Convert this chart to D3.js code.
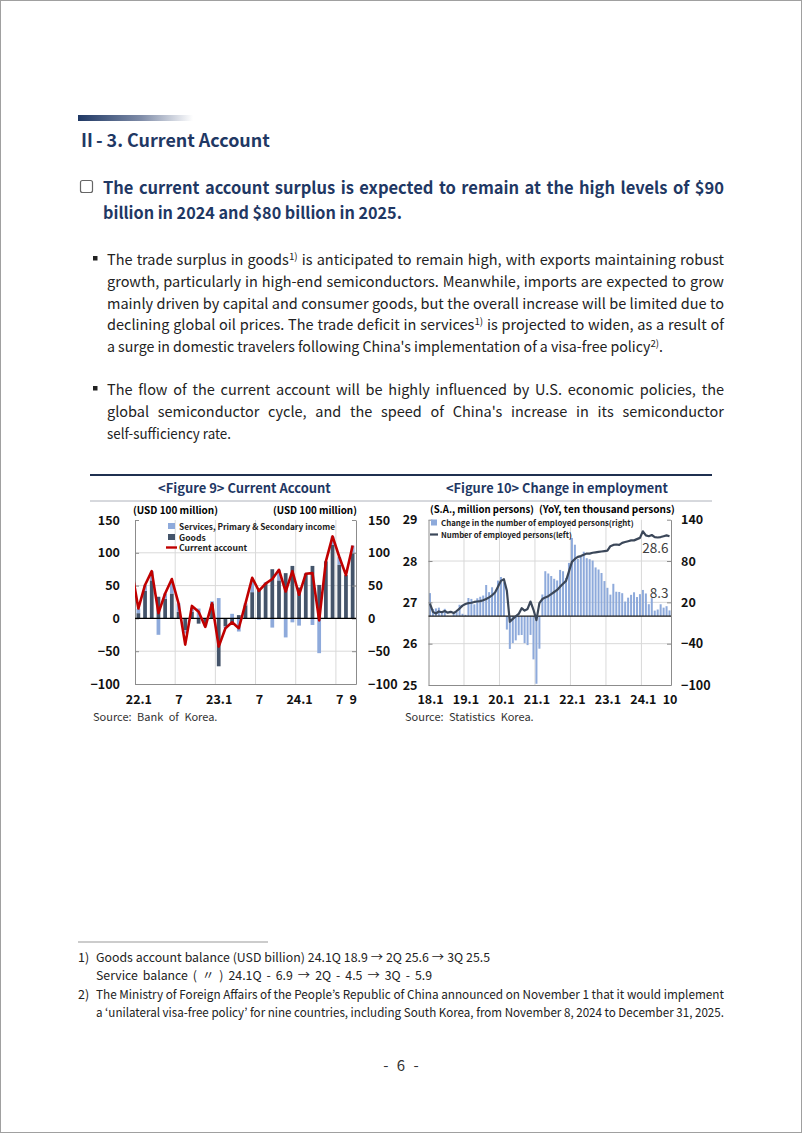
<!DOCTYPE html>
<html><head><meta charset="utf-8">
<script src="https://cdn.jsdelivr.net/npm/d3@7"></script>
<style>
html,body{margin:0;padding:0;background:#fff;}
svg{display:block;}
</style></head><body>
<svg id="page" width="802" height="1133"></svg>
<script>
// ================= DATA =================
// Figure 9: monthly, 22.1 .. 24.9 (USD 100 million)
const fig9Months = ["22.1","22.2","22.3","22.4","22.5","22.6","22.7","22.8","22.9","22.10","22.11","22.12",
  "23.1","23.2","23.3","23.4","23.5","23.6","23.7","23.8","23.9","23.10","23.11","23.12",
  "24.1","24.2","24.3","24.4","24.5","24.6","24.7","24.8","24.9"];
const fig9Goods = [8,42,58,33,30,38,10,-18,10,-8,-7,22,-73,-12,-10,5,20,40,44,53,75,58,69,80,47,68,80,51,87,112,82,66,100];
const fig9Services = [7,9,14,-25,8,16,13,-5,6,15,-5,4,31,-3,7,-20,3,20,-2,2,-14,16,-29,-6,-11,1,-10,-53,0,13,12,0,11];
const fig9Current = [15,51,72,8,38,60,23,-40,19,10,-13,23,-43,-15,-6,-15,23,62,42,53,60,74,41,72,36,68,69,-3,87,125,94,66,111];
const fig9CurrentLeadIn = 75; // 21.12, cut off at the left edge
const fig9TickMonths = ["22.1","22.7","23.1","23.7","24.1","24.7","24.9"];
const fig9TickLabels = ["22.1","7","23.1","7","24.1","7","9"];
const fig9GridMonths = ["22.7","23.1","23.7","24.1","24.7"];
const fig9YTicks = [150,100,50,0,-50,-100];

// Figure 10: monthly, 18.1 .. 24.10
const fig10Years = ["18","19","20","21","22","23","24"];
const fig10Employed = [
  26.97,26.77,26.73,26.78,26.76,26.79,26.75,26.77,26.74,26.79,26.85,26.92,
  26.96,26.98,26.99,27.01,27.02,27.03,27.05,27.08,27.12,27.17,27.24,27.38,
  27.52,27.56,27.28,26.53,26.60,26.66,26.72,26.86,26.80,26.84,27.02,26.82,
  26.57,26.98,27.08,27.12,27.15,27.20,27.25,27.30,27.38,27.45,27.52,27.75,
  27.98,28.05,28.10,28.12,28.15,28.18,28.18,28.20,28.21,28.22,28.23,28.24,
  28.25,28.36,28.39,28.40,28.39,28.44,28.46,28.48,28.50,28.50,28.53,28.56,
  28.72,28.62,28.60,28.63,28.58,28.57,28.58,28.60,28.62,28.60];
const fig10Change = [
  33.4,10.4,11.2,12.3,7.2,10.6,0.5,0.3,4.5,6.4,16.5,3.4,
  1.9,26.3,25.0,17.1,25.9,28.1,29.9,45.2,34.8,41.9,33.1,51.6,
  56.8,49.2,-19.5,-47.6,-39.2,-35.2,-27.7,-27.4,-39.2,-42.1,-27.3,-62.8,
  -98.2,-47.3,31.4,65.2,61.9,58.2,54.2,51.8,67.1,65.2,55.3,77.3,
  113.5,103.7,83.1,86.5,93.5,84.1,82.6,80.7,70.7,67.7,62.6,50.9,
  41.1,31.2,46.9,35.4,35.1,33.3,21.1,26.8,30.9,34.6,27.7,31.9,
  38.0,32.9,17.3,26.1,8.0,9.6,17.2,12.3,14.4,8.3];
const fig10TickMonths = ["18.1","19.1","20.1","21.1","22.1","23.1","24.1","24.10"];
const fig10TickLabels = ["18.1","19.1","20.1","21.1","22.1","23.1","24.1","10"];
const fig10GridMonths = ["19.1","20.1","21.1","22.1","23.1","24.1"];
const fig10LeftTicks = [29,28,27,26,25];
const fig10RightTicks = [140,80,20,-40,-100];

// ================= PAGE =================
const FONT = "'Noto Sans CJK KR','Noto Sans',sans-serif";
const NAVY = "#1f3864";
const svg = d3.select("#page");
const defs = svg.append("defs");

svg.append("rect").attr("x",0.5).attr("y",0.5).attr("width",801).attr("height",1132)
  .attr("fill","#fff").attr("stroke","#a0a0a0");

const grad = defs.append("linearGradient").attr("id","hdrGrad");
grad.append("stop").attr("offset","0%").attr("stop-color","#1f3864");
grad.append("stop").attr("offset","55%").attr("stop-color","#7f8ca8");
grad.append("stop").attr("offset","100%").attr("stop-color","#ffffff");
svg.append("rect").attr("x",78).attr("y",115).attr("width",115).attr("height",6).attr("fill","url(#hdrGrad)");

// shrink font when too wide, stretch spacing when too narrow
function fitText(sel, w){
  let L = sel.node().getComputedTextLength();
  if (L > w + 0.5){
    const fs = parseFloat(sel.attr("font-size") || getComputedStyle(sel.node()).fontSize);
    sel.attr("font-size", fs*w/L);
    L = sel.node().getComputedTextLength();
  }
  if (L < w - 1) sel.attr("textLength", w).attr("lengthAdjust","spacing");
  return sel;
}

const title = svg.append("text").attr("x",78).attr("y",147)
  .attr("font-family",FONT).attr("font-size",19.5).attr("font-weight","bold").attr("fill",NAVY)
  .text("Ⅱ- 3.  Current  Account");
fitText(title, 192);

function addWord(g, word, o){
  const t = g.append("text").attr("y",0).attr("font-family",FONT).attr("font-size",o.size)
    .attr("font-weight",o.weight||"normal").attr("fill",o.color||"#222");
  const parts = word.split("^");
  t.append("tspan").text(parts[0]);
  if (parts.length>1){
    t.append("tspan").attr("dy",-o.size*0.38).attr("font-size",o.size*0.68).text(parts[1]);
    if (parts.length>2) t.append("tspan").attr("dy",o.size*0.38).text(parts[2]);
  }
  return t;
}
function drawLine(parent, text, x0, x1, y, o){
  const words = text.split(/\s+/).filter(w=>w.length);
  const g = parent.append("g");
  const nodes = words.map(w=>addWord(g,w,o));
  const widths = nodes.map(n=>n.node().getComputedTextLength());
  const total = d3.sum(widths);
  let gap = o.justify && words.length>1 ? (x1-x0-total)/(words.length-1) : o.size*(o.space||0.4);
  let sx = 1;
  const minGap = o.size*0.22;
  if (gap < minGap){ gap = minGap; sx = (x1-x0)/(total+gap*(words.length-1)); }
  let x = 0;
  nodes.forEach((n,i)=>{ n.attr("x",x); x += widths[i]+gap; });
  g.attr("transform",`translate(${x0},${y}) scale(${sx},1)`);
}

// heading with checkbox
svg.append("rect").attr("x",80.5).attr("y",180.5).attr("width",12).attr("height",12).attr("rx",2)
  .attr("fill","none").attr("stroke","#666").attr("stroke-width",1.2);
const hOpt = {size:16.5, weight:"bold", color:NAVY, justify:true};
drawLine(svg,"The current account surplus is expected to remain at the high levels of $90",103,724,194,hOpt);
drawLine(svg,"billion in 2024 and $80 billion in 2025.",103,402,219,hOpt);

// bullets
const bOpt = {size:14.5, color:"#222", justify:true};
const para1 = [
  "The trade surplus in goods^1) is anticipated to remain high, with exports maintaining robust",
  "growth, particularly in high-end semiconductors. Meanwhile, imports are expected to grow",
  "mainly driven by capital and consumer goods, but the overall increase will be limited due to",
  "declining global oil prices. The trade deficit in services^1) is projected to widen, as a result of",
  "a surge in domestic travelers following China's implementation of a visa-free policy^2)^."];
const para1Ends = [724,724,724,724,663];
const para2 = [
  "The flow of the current account will be highly influenced by U.S. economic policies, the",
  "global semiconductor cycle, and the speed of China's increase in its semiconductor",
  "self-sufficiency rate."];
const para2Ends = [724,724,231];
svg.append("rect").attr("x",93).attr("y",256).attr("width",4.5).attr("height",4.5).attr("fill","#222");
para1.forEach((l,i)=>drawLine(svg,l,107,para1Ends[i],265+i*21.8,bOpt));
svg.append("rect").attr("x",93).attr("y",386).attr("width",4.5).attr("height",4.5).attr("fill","#222");
para2.forEach((l,i)=>drawLine(svg,l,107,para2Ends[i],395+i*21.8,bOpt));

// figure frame
svg.append("line").attr("x1",90).attr("x2",712).attr("y1",475).attr("y2",475).attr("stroke","#1f3050").attr("stroke-width",2);
svg.append("line").attr("x1",90).attr("x2",712).attr("y1",501).attr("y2",501).attr("stroke","#9aa0aa").attr("stroke-width",0.8);
const ft9 = svg.append("text").attr("x",158).attr("y",493)
  .attr("font-family",FONT).attr("font-size",14).attr("font-weight","bold").attr("fill",NAVY)
  .text("<Figure 9>  Current  Account");
const ft10 = svg.append("text").attr("x",446).attr("y",493)
  .attr("font-family",FONT).attr("font-size",14).attr("font-weight","bold").attr("fill",NAVY)
  .text("<Figure 10>  Change  in  employment");
fitText(ft9,173); fitText(ft10,222);

svg.append("text").attr("x",93).attr("y",721).attr("font-family",FONT).attr("font-size",11).attr("fill","#333")
  .attr("word-spacing",3).text("Source: Bank of Korea.");
svg.append("text").attr("x",405).attr("y",721).attr("font-family",FONT).attr("font-size",11).attr("fill","#333")
  .attr("word-spacing",3).text("Source: Statistics Korea.");

function styleAxis(sel, size){
  sel.select(".domain").attr("stroke","#8c8c8c");
  sel.selectAll(".tick line").attr("stroke","#8c8c8c");
  sel.selectAll("text").attr("font-family",FONT).attr("font-size",size).attr("font-weight","bold").attr("fill","#111");
}

// ================= FIGURE 9 =================
const f9 = {x0:135, x1:356, y0:520, y1:684};
const x9 = d3.scaleLinear().domain([-0.5, fig9Months.length-0.5]).range([f9.x0,f9.x1]);
const y9 = d3.scaleLinear().domain([-100,150]).range([f9.y1,f9.y0]);
const step9 = x9(1)-x9(0), bw9 = step9*0.56;
const g9 = svg.append("g");
defs.append("clipPath").attr("id","clip9").append("rect")
  .attr("x",f9.x0).attr("y",f9.y0-10).attr("width",f9.x1-f9.x0).attr("height",f9.y1-f9.y0+20);

g9.selectAll(".hg").data(fig9YTicks.filter(v=>v!==150 && v!==0 && v!==-100)).join("line")
  .attr("x1",f9.x0).attr("x2",f9.x1).attr("y1",d=>y9(d)).attr("y2",d=>y9(d)).attr("stroke","#d9d9d9");
g9.selectAll(".vg").data(fig9GridMonths).join("line")
  .attr("x1",d=>x9(fig9Months.indexOf(d)-0.5)).attr("x2",d=>x9(fig9Months.indexOf(d)-0.5))
  .attr("y1",f9.y0).attr("y2",f9.y1).attr("stroke","#d9d9d9");

g9.selectAll(".gd").data(fig9Goods).join("rect")
  .attr("x",(d,i)=>x9(i)-bw9/2).attr("width",bw9)
  .attr("y",d=>y9(Math.max(0,d))).attr("height",d=>Math.abs(y9(d)-y9(0))).attr("fill","#44546a");
g9.selectAll(".sv").data(fig9Services).join("rect")
  .attr("x",(d,i)=>x9(i)-bw9/2).attr("width",bw9)
  .attr("y",(d,i)=>{const g=fig9Goods[i]; const base = d>=0 ? Math.max(g,0) : Math.min(g,0); return d>=0 ? y9(base+d) : y9(base);})
  .attr("height",d=>Math.abs(y9(d)-y9(0))).attr("fill","#8eaadb");

const axL9 = d3.axisLeft(y9).tickValues(fig9YTicks).tickSizeInner(-4).tickSizeOuter(0).tickPadding(15);
const axR9 = d3.axisRight(y9).tickValues(fig9YTicks).tickSizeInner(-4).tickSizeOuter(0).tickPadding(12);
const axB9 = d3.axisBottom(x9).tickValues(fig9TickMonths.map(m=>fig9Months.indexOf(m)))
  .tickFormat((d,i)=>fig9TickLabels[i]).tickSize(0).tickPadding(11);
g9.append("g").attr("transform",`translate(${f9.x0},0)`).call(axL9).call(s=>styleAxis(s,12.5));
g9.append("g").attr("transform",`translate(${f9.x1},0)`).call(axR9).call(s=>styleAxis(s,12.5));
g9.append("g").attr("transform",`translate(0,${f9.y1})`).call(axB9).call(s=>styleAxis(s,12.5));
g9.append("line").attr("x1",f9.x0).attr("x2",f9.x1).attr("y1",y9(0)).attr("y2",y9(0)).attr("stroke","#000").attr("stroke-width",1.3);

const caPts = [[-1,fig9CurrentLeadIn]].concat(fig9Current.map((v,i)=>[i,v]));
g9.append("path").datum(caPts).attr("clip-path","url(#clip9)")
  .attr("d",d3.line().x(d=>x9(d[0])).y(d=>y9(d[1])))
  .attr("fill","none").attr("stroke","#c00000").attr("stroke-width",2.6).attr("stroke-linejoin","round");

const u9a = g9.append("text").attr("x",133).attr("y",514).attr("font-family",FONT).attr("font-size",11).attr("font-weight","bold").text("(USD 100 million)");
const u9b = g9.append("text").attr("x",273).attr("y",514).attr("font-family",FONT).attr("font-size",11).attr("font-weight","bold").text("(USD 100 million)");
fitText(u9a,85); fitText(u9b,84);

const lg9 = g9.append("g").attr("font-family",FONT).attr("font-size",8.6).attr("font-weight","bold").attr("fill","#222");
lg9.append("rect").attr("x",168).attr("y",523).attr("width",7).attr("height",6).attr("fill","#8eaadb");
fitText(lg9.append("text").attr("x",179).attr("y",530).attr("font-size",8.6).text("Services, Primary & Secondary income"),156);
lg9.append("rect").attr("x",168).attr("y",534).attr("width",7).attr("height",6).attr("fill","#44546a");
lg9.append("text").attr("x",179).attr("y",541).text("Goods");
lg9.append("line").attr("x1",166).attr("x2",177).attr("y1",547.5).attr("y2",547.5).attr("stroke","#c00000").attr("stroke-width",2.4);
lg9.append("text").attr("x",179).attr("y",551).text("Current account");

// ================= FIGURE 10 =================
const fig10Months = [];
fig10Years.forEach(y=>{ for(let m=1;m<=12;m++){ if(fig10Months.length<fig10Change.length) fig10Months.push(y+"."+m); } });
const f10 = {x0:428.5, x1:671, y0:519.7, y1:685};
const x10 = d3.scaleLinear().domain([-0.5, fig10Months.length-0.5]).range([f10.x0,f10.x1]);
const yL10 = d3.scaleLinear().domain([25,29]).range([f10.y1,f10.y0]);
const yR10 = d3.scaleLinear().domain([-100,140]).range([f10.y1,f10.y0]);
const step10 = x10(1)-x10(0), bw10 = step10*0.68;
const g10 = svg.append("g");

g10.selectAll(".hg").data([28,27,26]).join("line")
  .attr("x1",f10.x0).attr("x2",f10.x1).attr("y1",d=>yL10(d)).attr("y2",d=>yL10(d)).attr("stroke","#d9d9d9");
g10.selectAll(".vg").data(fig10GridMonths).join("line")
  .attr("x1",d=>x10(fig10Months.indexOf(d)-0.5)).attr("x2",d=>x10(fig10Months.indexOf(d)-0.5))
  .attr("y1",f10.y0).attr("y2",f10.y1).attr("stroke","#d9d9d9");

g10.selectAll(".bar").data(fig10Change).join("rect")
  .attr("x",(d,i)=>x10(i)-bw10/2).attr("width",bw10)
  .attr("y",d=>yR10(Math.max(0,d))).attr("height",d=>Math.abs(yR10(d)-yR10(0))).attr("fill","#8eaadb");

const axL10 = d3.axisLeft(yL10).tickValues(fig10LeftTicks).tickSizeInner(-4).tickSizeOuter(0).tickPadding(11).tickFormat(d3.format("d"));
const axR10 = d3.axisRight(yR10).tickValues(fig10RightTicks).tickSizeInner(-4).tickSizeOuter(0).tickPadding(10);
const axB10 = d3.axisBottom(x10).tickValues(fig10TickMonths.map(m=>fig10Months.indexOf(m)))
  .tickFormat((d,i)=>fig10TickLabels[i]).tickSize(0).tickPadding(10);
g10.append("g").attr("transform",`translate(${f10.x0},0)`).call(axL10).call(s=>styleAxis(s,12.5));
g10.append("g").attr("transform",`translate(${f10.x1},0)`).call(axR10).call(s=>styleAxis(s,12.5));
g10.append("g").attr("transform",`translate(0,${f10.y1})`).call(axB10).call(s=>styleAxis(s,12.5));
g10.append("line").attr("x1",f10.x0).attr("x2",f10.x1).attr("y1",yR10(0)).attr("y2",yR10(0)).attr("stroke","#1a1a1a").attr("stroke-width",1.3);

g10.append("path").datum(fig10Employed)
  .attr("d",d3.line().x((d,i)=>x10(i)).y(d=>yL10(d)))
  .attr("fill","none").attr("stroke","#3b4759").attr("stroke-width",2.2).attr("stroke-linejoin","round");

g10.append("text").attr("x",x10(fig10Months.length-1)-1).attr("y",553).attr("text-anchor","end")
  .attr("font-family",FONT).attr("font-size",13.5).attr("fill","#404040").text(d3.format(".1f")(fig10Employed[fig10Employed.length-1]));
g10.append("text").attr("x",x10(fig10Months.length-1)-1).attr("y",598).attr("text-anchor","end")
  .attr("font-family",FONT).attr("font-size",13.5).attr("fill","#404040").text(d3.format(".1f")(fig10Change[fig10Change.length-1]));

const u10a = g10.append("text").attr("x",430).attr("y",513).attr("font-family",FONT).attr("font-size",11).attr("font-weight","bold").text("(S.A., million persons)");
const u10b = g10.append("text").attr("x",539).attr("y",513).attr("font-family",FONT).attr("font-size",11).attr("font-weight","bold").text("(YoY, ten thousand persons)");
fitText(u10a,104); fitText(u10b,136);

const lg10 = g10.append("g").attr("font-family",FONT).attr("font-size",8.6).attr("font-weight","bold").attr("fill","#222");
lg10.append("rect").attr("x",431).attr("y",519.5).attr("width",6).attr("height",6).attr("fill","#8eaadb");
fitText(lg10.append("text").attr("x",441).attr("y",526).attr("font-size",8.6).text("Change in the number of employed persons(right)"),193);
lg10.append("line").attr("x1",430).attr("x2",438).attr("y1",534.5).attr("y2",534.5).attr("stroke","#3b4759").attr("stroke-width",2.2);
fitText(lg10.append("text").attr("x",441).attr("y",538).attr("font-size",8.6).text("Number of employed persons(left)"),131);

// ================= FOOTNOTES =================
svg.append("line").attr("x1",78).attr("x2",268).attr("y1",942).attr("y2",942).attr("stroke","#999").attr("stroke-width",1);
const fOpt = {size:12.3, color:"#222", justify:true};
svg.append("text").attr("x",78).attr("y",962).attr("font-family",FONT).attr("font-size",12.5).attr("fill","#222").text("1)");
drawLine(svg,"Goods account balance (USD billion) 24.1Q 18.9 → 2Q 25.6 → 3Q 25.5",96,490,962,fOpt);
drawLine(svg,"Service balance (  〃  ) 24.1Q  - 6.9 → 2Q  - 4.5 → 3Q  - 5.9",96,432,980,fOpt);
svg.append("text").attr("x",78).attr("y",999).attr("font-family",FONT).attr("font-size",12.5).attr("fill","#222").text("2)");
drawLine(svg,"The Ministry of Foreign Affairs of the People’s Republic of China announced on November 1 that it would implement",96,724,999,fOpt);
drawLine(svg,"a ‘unilateral visa-free policy’ for nine countries, including South Korea, from November 8, 2024 to December 31, 2025.",96,724,1017,fOpt);

svg.append("text").attr("x",401).attr("y",1071).attr("text-anchor","middle").attr("font-family",FONT)
  .attr("font-size",15).attr("fill","#333").attr("word-spacing",5).text("- 6 -");
</script>
</body></html>
